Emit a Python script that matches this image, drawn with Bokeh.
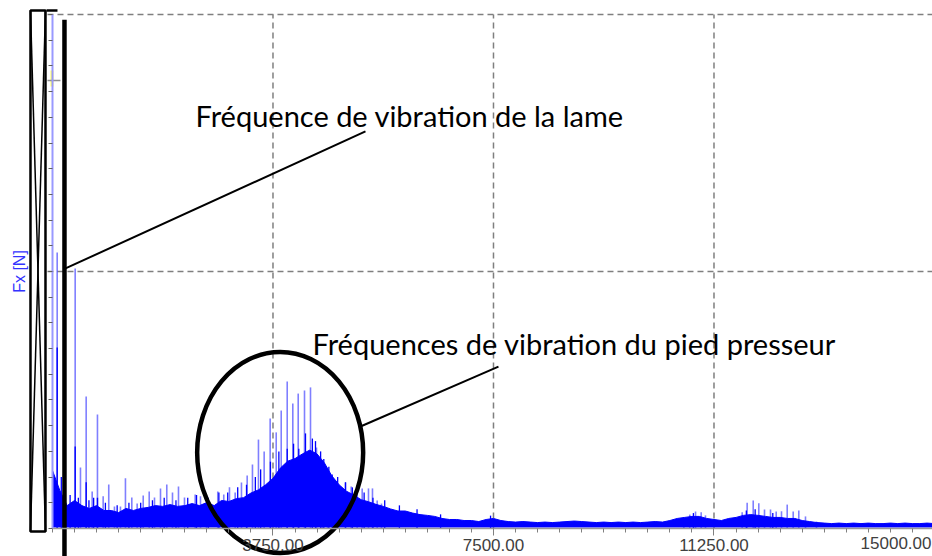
import math
from bokeh.plotting import figure
from bokeh.models import (Range1d, LinearAxis, FixedTicker, NumeralTickFormatter,
                          Label, ColumnDataSource)
from bokeh.embed import file_html
from bokeh.resources import INLINE

# ---- spectrum data: Fx amplitude versus frequency (Hz) ----
# dense noise band, upper edge sampled every 125 Hz
band_freq = list(range(0, 15001, 125))
band_hi = [
    0.226, 0.148, 0.089, 0.109, 0.089, 0.078, 0.089, 0.070, 0.070, 0.062,
    0.078, 0.070, 0.078, 0.082, 0.089, 0.086, 0.093, 0.086, 0.089, 0.097,
    0.089, 0.101, 0.089, 0.109, 0.105, 0.116, 0.120, 0.138, 0.150, 0.170,
    0.195, 0.235, 0.262, 0.272, 0.290, 0.305, 0.290, 0.255, 0.205, 0.170,
    0.145, 0.130, 0.112, 0.104, 0.094, 0.086, 0.076, 0.068, 0.068, 0.060,
    0.054, 0.051, 0.047, 0.039, 0.035, 0.035, 0.031, 0.031, 0.027, 0.035,
    0.039, 0.031, 0.027, 0.025, 0.027, 0.025, 0.023, 0.025, 0.023, 0.025,
    0.027, 0.029, 0.027, 0.025, 0.023, 0.025, 0.023, 0.025, 0.023, 0.025,
    0.023, 0.025, 0.027, 0.025, 0.031, 0.039, 0.043, 0.047, 0.047, 0.039,
    0.035, 0.031, 0.039, 0.043, 0.051, 0.054, 0.051, 0.047, 0.043, 0.043,
    0.039, 0.039, 0.031, 0.027, 0.023, 0.021, 0.019, 0.021, 0.019, 0.021,
    0.019, 0.021, 0.019, 0.019, 0.021, 0.019, 0.021, 0.019, 0.019, 0.021,
    0.019,
]

# short noise peaks poking out of the band
noise_freq = [
    150, 300, 440, 620, 700, 900, 1100, 1300, 1500, 1700,
    1900, 2100, 2300, 2450, 2650, 2830, 2980, 3150, 3300, 3450,
    3540, 3707, 3850, 3992, 4100, 4189, 4303, 4420, 4473, 4560,
    4614, 4700, 4757, 4850, 4983, 5100, 5300, 5450, 5650, 5900,
    6200, 6600, 7450, 10900, 11800, 11950, 12250,
]
noise_height = [
    0.200, 0.130, 0.120, 0.110, 0.120, 0.100, 0.090, 0.100, 0.100, 0.110,
    0.120, 0.110, 0.120, 0.130, 0.120, 0.140, 0.140, 0.160, 0.170, 0.200,
    0.230, 0.260, 0.300, 0.310, 0.330, 0.310, 0.370, 0.350, 0.340, 0.300,
    0.270, 0.240, 0.210, 0.200, 0.180, 0.160, 0.140, 0.120, 0.110, 0.090,
    0.075, 0.055, 0.050, 0.060, 0.070, 0.075, 0.060,
]

# harmonic peaks rising above the noise band
spike_freq = [
    80, 386, 476, 573, 675, 765, 862, 957, 1054, 1156,
    1241, 1349, 1440, 1543, 1645, 1735, 1837, 1944, 2041, 2143,
    2245, 2427, 2517, 2619, 2811, 2913, 3010, 3107, 3214, 3311,
    3401, 3503, 3600, 3702, 3805, 3890, 3992, 4087, 4179, 4286,
    4388, 4490, 4587, 4677, 4983, 5080, 5182, 5267, 5374, 5442,
    5522, 5595,
    10737, 10838, 10936, 11032, 11105,
    11729, 11814, 11917, 12012, 12109, 12211, 12308, 12398, 12495, 12597,
    12692, 12806, 12993,
]
spike_height = [
    1.074, 1.012, 0.237, 0.514, 0.144, 0.444, 0.125, 0.171, 0.086, 0.086,
    0.195, 0.121, 0.097, 0.128, 0.144, 0.121, 0.156, 0.171, 0.140, 0.163,
    0.121, 0.132, 0.125, 0.128, 0.144, 0.132, 0.160, 0.140, 0.179, 0.206,
    0.249, 0.346, 0.300, 0.428, 0.374, 0.459, 0.572, 0.486, 0.525, 0.537,
    0.549, 0.315, 0.214, 0.187, 0.179, 0.163, 0.144, 0.156, 0.156, 0.156,
    0.109, 0.097,
    0.044, 0.054, 0.066, 0.063, 0.051,
    0.063, 0.100, 0.109, 0.098, 0.074, 0.074, 0.066, 0.067, 0.093, 0.066,
    0.070, 0.047, 0.027,
]
# saturated lower part of the strongest peaks
core_freq = [80, 386, 573, 765]
core_height = [0.704, 0.319, 0.180, 0.120]

# axis ticks and grid
x_major = [3750, 7500, 11250, 15000]
x_minor = [i * 375 for i in range(41)]
y_minor = [i / 10 for i in range(21)]
grid_x = [3750, 7500, 11250, 15000]
grid_y = [1, 2]

blade_freq = 204  # blade vibration frequency marker (Hz)

p = figure(width=932, height=556, output_backend="svg", toolbar_location=None,
           x_range=Range1d(-884, 14966), y_range=Range1d(-0.109, 2.0545),
           x_axis_type=None, y_axis_type=None,
           min_border=0, min_border_left=0, min_border_right=0,
           min_border_top=0, min_border_bottom=0)
p.outline_line_color = None
p.background_fill_color = "white"
p.border_fill_color = "white"

# dashed grid
p.segment(x0=grid_x, x1=grid_x, y0=[0] * len(grid_x), y1=[2] * len(grid_x),
          line_color="#7f7f7f", line_width=1.5, line_dash="6 4")
p.segment(x0=[-85] * len(grid_y), x1=[15000] * len(grid_y), y0=grid_y, y1=grid_y,
          line_color="#7f7f7f", line_width=1.5, line_dash="6 4")

# spectrum
p.segment(x0=spike_freq, x1=spike_freq, y0=[0] * len(spike_freq), y1=spike_height,
          line_color="#0000ff", line_alpha=0.5, line_width=1.6)
band = ColumnDataSource(dict(f=band_freq, hi=band_hi))
p.varea(x="f", y1=0.004, y2="hi", source=band, fill_color="#0000ff")
p.line(x="f", y="hi", source=band, line_color="#0000ff", line_width=1)
p.segment(x0=noise_freq, x1=noise_freq, y0=[0] * len(noise_freq), y1=noise_height,
          line_color="#0000ff", line_width=1.3)
p.segment(x0=core_freq, x1=core_freq, y0=[0] * len(core_freq), y1=core_height,
          line_color="#0000ff", line_width=1.4)

# axes drawn at the data origin
xaxis = LinearAxis(fixed_location=0, bounds=(0, 15000),
                   ticker=FixedTicker(ticks=x_major, minor_ticks=x_minor),
                   formatter=NumeralTickFormatter(format="0.00"),
                   axis_line_color="#9a9a9a", axis_line_width=1.5,
                   major_tick_line_color="#808080", major_tick_out=7, major_tick_in=0,
                   minor_tick_line_color="#808080", minor_tick_out=4, minor_tick_in=0,
                   major_label_text_font="Liberation Sans",
                   major_label_text_font_size="17px",
                   major_label_text_color="#404040",
                   major_label_standoff=4)
p.add_layout(xaxis, "below")

yaxis = LinearAxis(fixed_location=0, bounds=(0, 2),
                   ticker=FixedTicker(ticks=[], minor_ticks=y_minor),
                   axis_line_color="#9999ff", axis_line_width=2,
                   minor_tick_line_color="#606060", minor_tick_out=4, minor_tick_in=0)
p.add_layout(yaxis, "left")

p.add_layout(Label(x=15000, y=-0.035, x_offset=-3, text="15000.00", text_align="right",
                   text_baseline="top", text_font="Liberation Sans",
                   text_font_size="17px", text_color="#404040"))

p.add_layout(Label(x=19, y=285, x_units="screen", y_units="screen", text="Fx [N]",
                   angle=math.pi / 2, text_align="center", text_baseline="middle",
                   text_font="Liberation Sans", text_font_size="16px",
                   text_color="#3333ff"))

# cursor marker on the amplitude axis
p.quad(left=[-34], right=[17], bottom=[1.72], top=[1.782],
       fill_color="#ffff66", line_color=None)
p.segment(x0=[-85], x1=[136], y0=[1.743], y1=[1.743], line_color="#909090", line_width=1.5)
p.segment(x0=[-102], x1=[85], y0=[2.016], y1=[2.016], line_color="black", line_width=2.5)

# crossed-out box over the amplitude scale
p.quad(left=[-374], right=[-119], bottom=[-0.012], top=[2.016],
       fill_color=None, line_color="black", line_width=2.5)
p.segment(x0=[-374, -119], x1=[-119, -374], y0=[2.016, 2.016], y1=[-0.012, -0.012],
          line_color="black", line_width=1.5)

# blade frequency marker
p.segment(x0=[blade_freq], x1=[blade_freq], y0=[-0.12], y1=[1.98],
          line_color="black", line_width=4.5)

# annotations
p.segment(x0=[221], x1=[5323], y0=[1.012], y1=[1.545], line_color="black", line_width=2)
p.add_layout(Label(x=2432, y=1.607, text="Fréquence de vibration de la lame",
                   text_baseline="middle", text_font="Lato", text_font_size="29px",
                   text_color="black"))

p.ellipse(x=[3872], y=[0.296], width=[2823], height=[0.782],
          fill_color=None, line_color="black", line_width=4.5)
p.segment(x0=[5238], x1=[7585], y0=[0.397], y1=[0.630], line_color="black", line_width=2)
p.add_layout(Label(x=4422, y=0.720, text="Fréquences de vibration du pied presseur",
                   text_baseline="middle", text_font="Lato", text_font_size="29px",
                   text_color="black"))

open("out.html", "w").write(file_html(p, INLINE))
